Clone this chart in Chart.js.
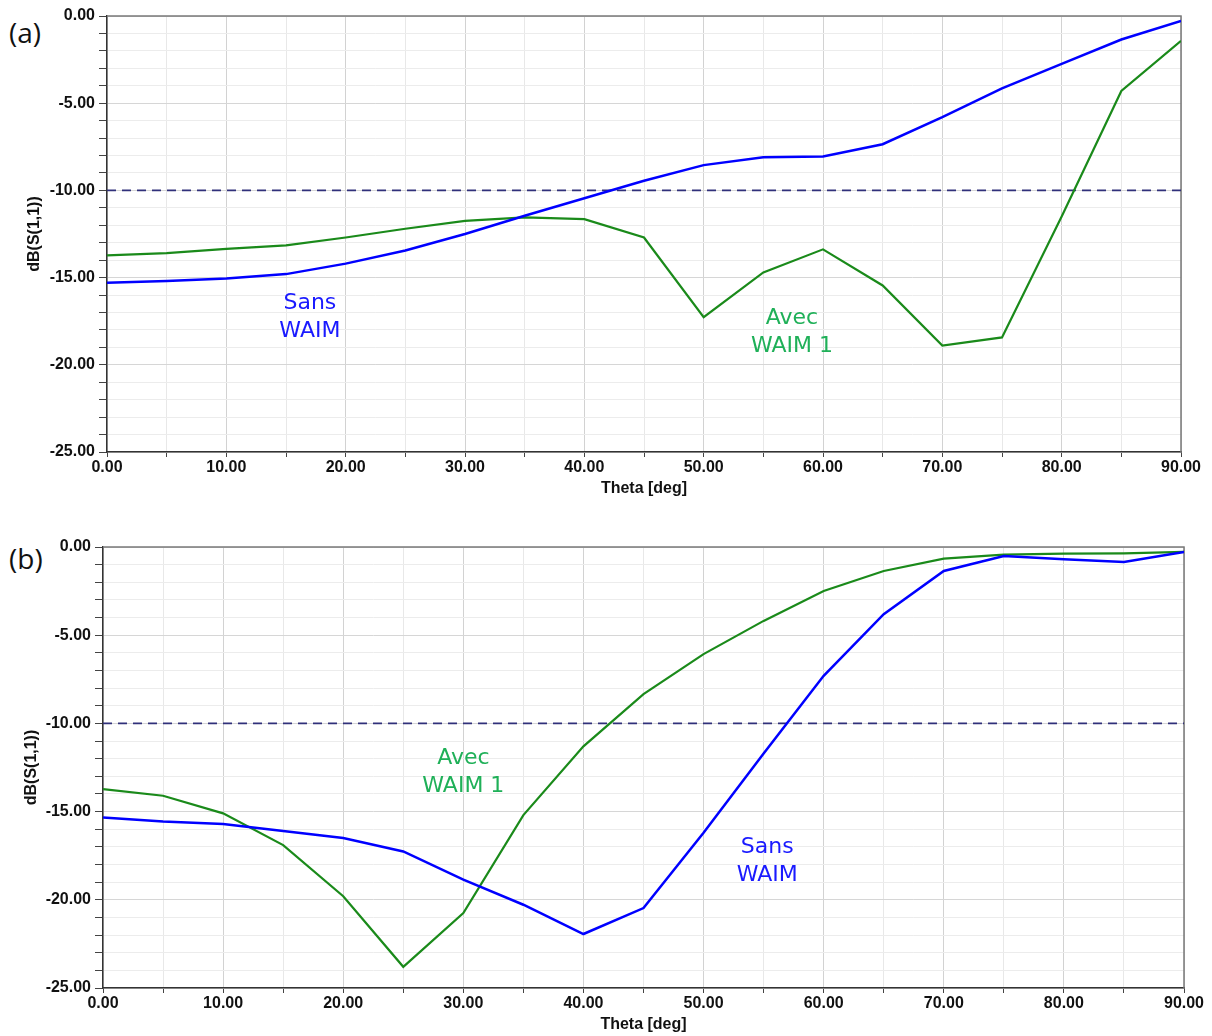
<!DOCTYPE html>
<html>
<head>
<meta charset="utf-8">
<script src="https://cdn.jsdelivr.net/npm/chart.js@4.4.1/dist/chart.umd.min.js"></script>
<style>
  body { margin: 0; background: #fff; }
  #page { position: relative; width: 1212px; height: 1036px; }
  canvas { position: absolute; left: 0; }
  .tag { position: absolute; left: 9px; font: 28px "Open Sans", sans-serif; color: #111; }
</style>
</head>
<body>
<div id="page">
  <div class="tag" style="top:13px">(a)</div>
  <div class="tag" style="top:539px">(b)</div>
  <canvas id="chartA" width="1212" height="500" style="top:0"></canvas>
  <canvas id="chartB" width="1212" height="506" style="top:530px"></canvas>
</div>
<script>
// angle of incidence, deg
const thetaDeg = [0, 5, 10, 15, 20, 25, 30, 35, 40, 45, 50, 55, 60, 65, 70, 75, 80, 85, 90];

// (a) dB(S(1,1))
const sansWaimA = [-15.3, -15.2, -15.05, -14.8, -14.2, -13.45, -12.5, -11.45, -10.45, -9.45, -8.55, -8.1, -8.05, -7.35, -5.8, -4.15, -2.75, -1.35, -0.28];
const avecWaimA = [-13.73, -13.6, -13.35, -13.15, -12.7, -12.2, -11.75, -11.55, -11.65, -12.7, -17.27, -14.7, -13.38, -15.45, -18.9, -18.43, -11.5, -4.3, -1.43];

// (b) dB(S(1,1))
const sansWaimB = [-15.33, -15.56, -15.7, -16.1, -16.5, -17.26, -18.86, -20.28, -21.94, -20.47, -16.2, -11.7, -7.3, -3.81, -1.36, -0.51, -0.7, -0.85, -0.28];
const avecWaimB = [-13.73, -14.1, -15.1, -16.9, -19.8, -23.8, -20.75, -15.2, -11.3, -8.34, -6.07, -4.19, -2.49, -1.36, -0.66, -0.43, -0.38, -0.36, -0.28];

const threshold = -10;
const xMin = 0, xMax = 90;
const yMin = -25, yMax = 0;

const BLUE = '#0000ff';
const GREEN = '#1a8a1a';

function toPoints(vals) {
  return thetaDeg.map((t, i) => ({ x: t, y: vals[i] }));
}

// text notes, placed in data coordinates
const notesA = [
  { text: 'Sans', x: 17, y: -16.5, color: '#1a1aff' },
  { text: 'WAIM', x: 17, y: -18.1, color: '#1a1aff' },
  { text: 'Avec', x: 57.4, y: -17.35, color: '#1fb058' },
  { text: 'WAIM 1', x: 57.4, y: -18.95, color: '#1fb058' }
];
const notesB = [
  { text: 'Avec', x: 30, y: -11.96, color: '#1fb058' },
  { text: 'WAIM 1', x: 30, y: -13.55, color: '#1fb058' },
  { text: 'Sans', x: 55.3, y: -17.0, color: '#1a1aff' },
  { text: 'WAIM', x: 55.3, y: -18.6, color: '#1a1aff' }
];

function notesPlugin(notes) {
  return {
    id: 'notes',
    afterDatasetsDraw(chart) {
      const ctx = chart.ctx;
      const xs = chart.scales.x, ys = chart.scales.y;
      ctx.save();
      ctx.font = '22px "DejaVu Sans"';
      ctx.textAlign = 'center';
      ctx.textBaseline = 'middle';
      notes.forEach(n => {
        ctx.fillStyle = n.color;
        ctx.fillText(n.text, xs.getPixelForValue(n.x), ys.getPixelForValue(n.y));
      });
      ctx.restore();
    }
  };
}

const frame = {
  id: 'frame',
  beforeDatasetsDraw(chart) {
    const a = chart.chartArea, ctx = chart.ctx;
    ctx.save();
    ctx.strokeStyle = '#7a7a7a';
    ctx.lineWidth = 1.5;
    ctx.beginPath();
    ctx.moveTo(a.left, a.top);
    ctx.lineTo(a.right, a.top);
    ctx.lineTo(a.right, a.bottom);
    ctx.stroke();
    ctx.restore();
  }
};

function makeChart(id, sans, avec, notes, cfg) {
  const tickFont = { family: '"Liberation Sans", Arial', size: 16, weight: 'bold' };
  return new Chart(document.getElementById(id), {
    type: 'line',
    data: {
      datasets: [
        { label: 'Sans WAIM', data: toPoints(sans), borderColor: BLUE, borderWidth: 2.5, pointRadius: 0, tension: 0 },
        { label: 'Avec WAIM 1', data: toPoints(avec), borderColor: GREEN, borderWidth: 2.2, pointRadius: 0, tension: 0 },
        { label: '-10 dB', data: [{ x: xMin, y: threshold }, { x: xMax, y: threshold }],
          borderColor: '#30307a', borderWidth: 1.8, borderDash: [9, 6], pointRadius: 0 }
      ]
    },
    options: {
      responsive: false,
      animation: false,
      layout: { padding: { top: cfg.top, right: cfg.right, left: 0, bottom: 0 } },
      plugins: { legend: { display: false }, tooltip: { enabled: false } },
      scales: {
        x: {
          type: 'linear', min: xMin, max: xMax,
          afterFit: s => { s.height = 48; },
          border: { color: '#333', width: 1.5 },
          grid: {
            color: c => c.tick.value % 10 === 0 ? '#d2d2d2' : '#e8e8e8',
            tickColor: '#444', tickLength: 5
          },
          ticks: {
            stepSize: 5, autoSkip: false, maxRotation: 0, padding: 1,
            color: '#111', font: tickFont,
            callback: v => v % 10 === 0 ? v.toFixed(2) : ''
          },
          title: { display: true, text: 'Theta [deg]', color: '#111', font: tickFont, padding: { top: 0, bottom: 2 } }
        },
        y: {
          min: yMin, max: yMax,
          afterFit: s => { s.width = cfg.left; },
          border: { color: '#333', width: 1.5 },
          grid: {
            color: c => c.tick.value % 5 === 0 ? '#d6d6d6' : '#ececec',
            tickColor: '#444', tickLength: 8
          },
          ticks: {
            stepSize: 1, autoSkip: false, padding: 4,
            color: '#111', font: tickFont,
            callback: v => v % 5 === 0 ? v.toFixed(2) : ''
          },
          title: { display: true, text: 'dB(S(1,1))', color: '#111', font: tickFont, padding: { top: cfg.titlePad, bottom: 0 } }
        }
      }
    },
    plugins: [frame, notesPlugin(notes)]
  });
}

makeChart('chartA', sansWaimA, avecWaimA, notesA, { top: 16, right: 31, left: 107, titlePad: 25 });
makeChart('chartB', sansWaimB, avecWaimB, notesB, { top: 17, right: 28, left: 103, titlePad: 22 });
</script>
</body>
</html>
